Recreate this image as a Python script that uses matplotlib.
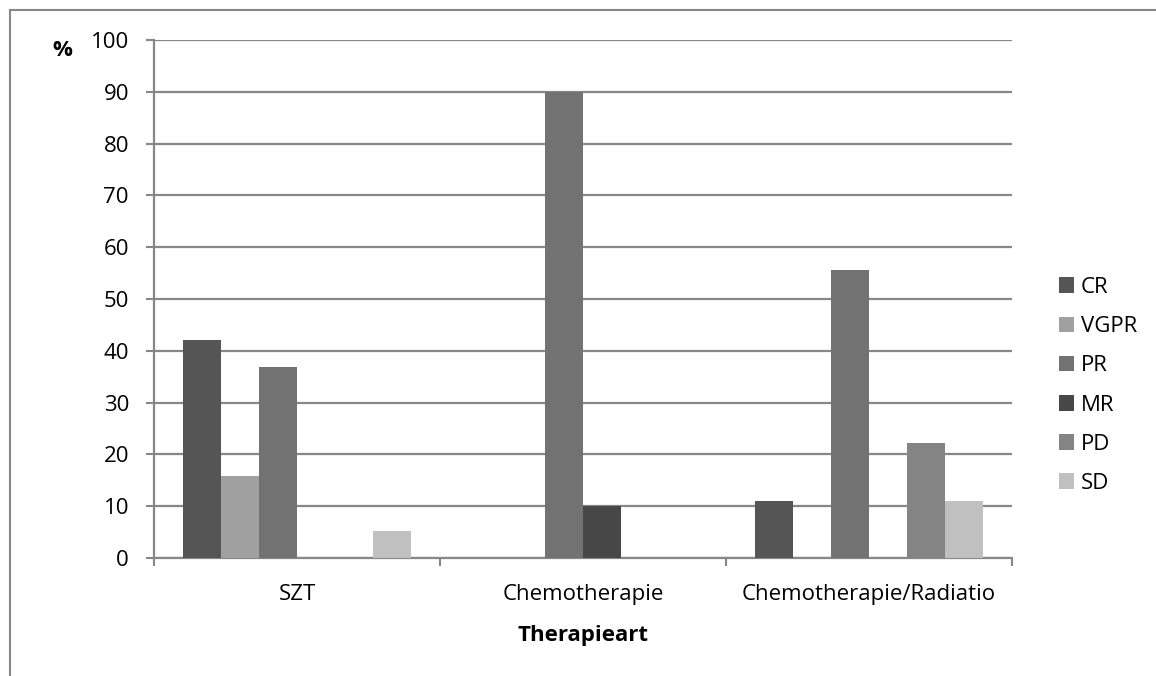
import matplotlib.pyplot as plt
import numpy as np
from matplotlib.patches import Rectangle

categories = ['SZT', 'Chemotherapie', 'Chemotherapie/Radiatio']
series = ['CR', 'VGPR', 'PR', 'MR', 'PD', 'SD']
cr = [42.1, 0, 11.1]
vgpr = [15.8, 0, 0]
pr = [36.8, 90.0, 55.6]
mr = [0, 10.0, 0]
pd_ = [0, 0, 22.2]
sd = [5.3, 0, 11.1]
values = [cr, vgpr, pr, mr, pd_, sd]
colors = ['#555555', '#a0a0a0', '#727272', '#474747', '#848484', '#c0c0c0']

plt.rcParams['font.family'] = ['Open Sans', 'DejaVu Sans']
W, H = 1156, 676
fs = 16
fig = plt.figure(figsize=(W / 100, H / 100), dpi=100)
ax = fig.add_axes([154 / W, 1 - 558 / H, (1012 - 154) / W, (558 - 40) / H])

grey = '#878787'
x = np.arange(len(categories))
bw = 0.133
for i, (name, vals, col) in enumerate(zip(series, values, colors)):
    ax.bar(x + (i - 2.5) * bw, vals, width=bw, color=col,
           edgecolor='none', label=name, zorder=3)

ax.set_xlim(-0.5, 2.5)
ax.set_ylim(0, 100)
ax.set_yticks(range(0, 101, 10))
ax.set_xticks(x)
ax.set_xticklabels(categories)
ax.set_xticks([-0.5, 0.5, 1.5, 2.5], minor=True)
ax.tick_params(axis='x', which='major', length=0, pad=19, labelsize=fs)
ax.tick_params(axis='x', which='minor', length=6, width=1.5, color=grey)
ax.tick_params(axis='y', length=6, width=1.5, color=grey, pad=12, labelsize=fs)
ax.grid(axis='y', color=grey, linewidth=1.6, zorder=0)
for s in ['top', 'right']:
    ax.spines[s].set_visible(False)
for s in ['left', 'bottom']:
    ax.spines[s].set_color(grey)
    ax.spines[s].set_linewidth(1.6)

ax.set_xlabel('Therapieart', fontweight='bold', fontsize=fs, labelpad=14)
fig.text(62 / W, 1 - 50 / H, '%', fontweight='bold', fontsize=fs,
         ha='center', va='center')

fig.legend(loc='upper left', bbox_to_anchor=(1050 / W, 1 - 268 / H),
           frameon=False, fontsize=fs, handlelength=0.7, handleheight=0.7,
           handletextpad=0.3, labelspacing=0.82, borderaxespad=0)

# outer chart border
fig.patches.append(Rectangle((10 / W, -0.1), 1.2, 1 - 10 / H + 0.1,
                             transform=fig.transFigure, fill=False,
                             edgecolor=grey, linewidth=1.5))

fig.savefig('out.png', dpi=100)
